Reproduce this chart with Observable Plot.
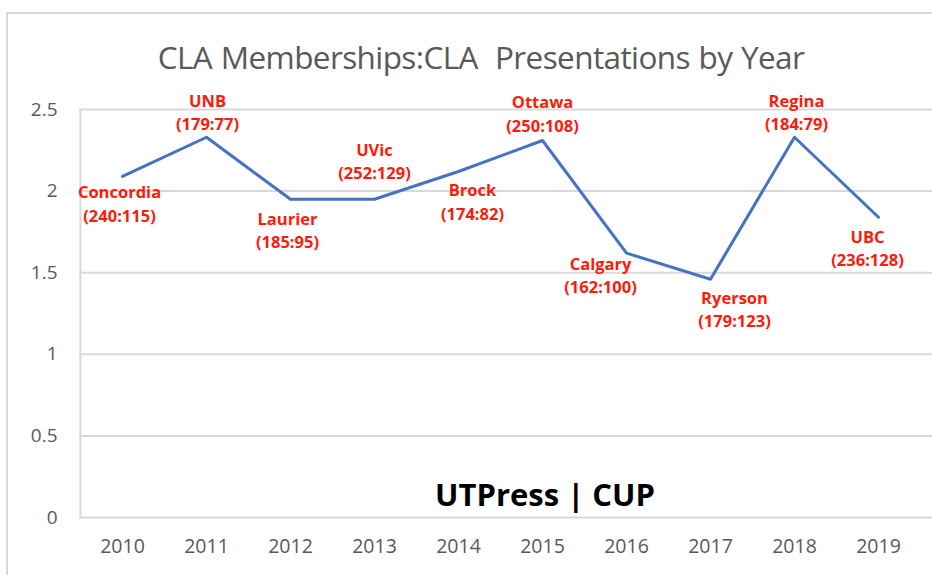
<!DOCTYPE html>
<html>
<head>
<meta charset="utf-8">
<script src="https://cdn.jsdelivr.net/npm/d3@7"></script>
<script src="https://cdn.jsdelivr.net/npm/@observablehq/plot@0.6"></script>
<style>
  html, body { margin: 0; padding: 0; background: #fff; }
  #wrap { position: relative; width: 932px; height: 575px; overflow: hidden; }
  #frame { position: absolute; left: 6px; top: 12px; width: 940px; height: 600px;
           border: 2px solid #d9d9d9; box-sizing: border-box; }
  #title { position: absolute; left: 0; top: 35px; width: 962px; text-align: center;
           font-family: "Open Sans", sans-serif; font-size: 31.5px; color: #595959;
           letter-spacing: -0.6px; word-spacing: 1px; }
  #chart { position: absolute; left: 0; top: 0; }
</style>
</head>
<body>
<div id="wrap">
  <div id="frame"></div>
  <div id="title">CLA Memberships:CLA&nbsp; Presentations by Year</div>
  <div id="chart"></div>
</div>
<script>
const years = ["2010","2011","2012","2013","2014","2015","2016","2017","2018","2019"];
const ratios = [2.09, 2.33, 1.95, 1.95, 2.12, 2.31, 1.62, 1.46, 2.33, 1.84];
const schools = ["Concordia","UNB","Laurier","UVic","Brock","Ottawa","Calgary","Ryerson","Regina","UBC"];
const memberships = [240, 179, 185, 252, 174, 250, 162, 179, 184, 236];
const presentations = [115, 77, 95, 129, 82, 108, 100, 123, 79, 128];
const yTicks = [0, 0.5, 1, 1.5, 2, 2.5];

const data = years.map((y, i) => ({
  year: y, ratio: ratios[i],
  label: schools[i] + "\n(" + memberships[i] + ":" + presentations[i] + ")"
}));

// label offsets (layout, not data): [dx, dy of block center]
const offsets = [[-3, 26], [1, -26], [-3, 30], [0, -39], [14, 29], [0, -28], [-26, 21], [24, 29], [2, -26], [-11, 30]];

const labelMarks = data.map((d, i) => Plot.text([d], {
  x: "year", y: "ratio", text: "label",
  dx: offsets[i][0], dy: offsets[i][1],
  fill: "#ff1a0a", fontWeight: "bold", fontSize: 16.5,
  lineHeight: 1.42, lineAnchor: "middle", textAnchor: "middle",
  fontFamily: "Open Sans", letterSpacing: "-0.2px"
}));

const chart = Plot.plot({
  width: 932,
  height: 575,
  marginTop: 109,
  marginBottom: 58,
  marginLeft: 79,
  marginRight: 0,
  style: { background: "transparent", fontFamily: "Open Sans", overflow: "visible" },
  x: { type: "band", domain: years, range: [79, 921], label: null, padding: 0 },
  y: { domain: [0, 2.5], label: null, ticks: yTicks, tickFormat: d => String(d) },
  marks: [
    Plot.ruleY(yTicks, { stroke: "#d9d9d9", strokeWidth: 2 }),
    Plot.ruleX([years[0]], { x: d => d, dx: -42.1, stroke: "#d9d9d9", strokeWidth: 2 }),
    Plot.axisY({ ticks: yTicks, tickSize: 0, tickPadding: 22, fontSize: 19, fill: "#595959", tickFormat: d => String(d), label: null }),
    Plot.axisX({ tickSize: 0, tickPadding: 22, fontSize: 19.5, fill: "#595959", label: null, letterSpacing: "0.3px" }),
    Plot.line(data, { x: "year", y: "ratio", stroke: "#4472c4", strokeWidth: 3, strokeLinejoin: "round" }),
    ...labelMarks,
    Plot.text(["UTPress | CUP"], { frameAnchor: "bottom", dx: 39, dy: -12, fontSize: 31, fontWeight: "bold", fill: "#000", fontFamily: "Open Sans", letterSpacing: "-0.8px" })
  ]
});
document.getElementById("chart").appendChild(chart);
</script>
</body>
</html>
